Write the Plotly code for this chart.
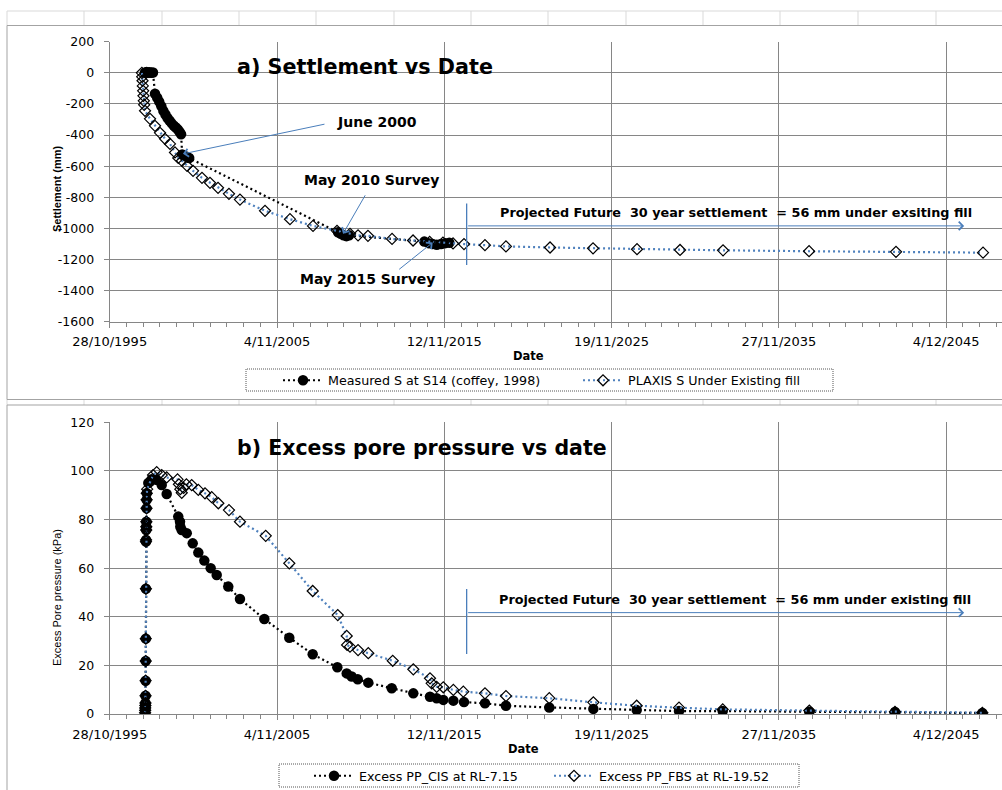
import plotly.graph_objects as go

W, H = 1002, 790

# ---------------- axes ----------------
TICK_DATES = ["1995-10-28", "2005-11-04", "2015-11-12", "2025-11-19", "2035-11-27", "2045-12-04"]
TICK_LABELS = ["28/10/1995", "4/11/2005", "12/11/2015", "19/11/2025", "27/11/2035", "4/12/2045"]
DATE_MIN = "1995-10-28"
DATE_MAX = "2049-04-08"
MINOR_STEP_DAYS = 366

SETTLE_TICKS = [200, 0, -200, -400, -600, -800, -1000, -1200, -1400, -1600]
SETTLE_LABELS = ["200", "0", "-200", "-400", "-600", "-800", "-1000", "-1200", "-1400", "-1600"]
PP_TICKS = [0, 20, 40, 60, 80, 100, 120]
PP_LABELS = ["0", "20", "40", "60", "80", "100", "120"]

# ---------------- a) settlement ----------------
MEASURED_DATES = [
    "1997-12-05", "1998-01-10", "1998-02-15", "1998-03-20", "1998-04-25", "1998-06-01",
    "1998-07-15", "1998-09-01", "1998-10-15", "1998-12-01", "1999-01-15", "1999-03-01",
    "1999-04-15", "1999-06-01", "1999-07-15", "1999-09-01", "1999-10-15", "1999-12-01",
    "2000-01-05", "2000-02-05",
    "2000-03-01", "2000-04-20", "2000-06-10", "2000-08-01",
    "2009-07-01", "2009-09-01", "2009-11-01", "2010-01-01", "2010-03-01",
    "2014-09-01", "2014-12-01", "2015-03-01", "2015-06-01", "2015-09-01", "2015-12-01",
    "2016-03-01",
]
MEASURED_S = [
    0, 5, 0, 3, 0, 2,
    -135, -160, -185, -215, -245, -268,
    -290, -308, -325, -340, -352, -365,
    -380, -395,
    -525, -535, -540, -548,
    -1025, -1035, -1045, -1050, -1045,
    -1085, -1095, -1100, -1105, -1100, -1095,
    -1092,
]

PLAXIS_DATES = [
    "1997-10-01", "1997-10-08", "1997-10-15", "1997-10-22", "1997-10-29", "1997-11-05",
    "1997-11-12", "1997-11-20", "1997-12-09", "1998-03-28", "1998-07-15", "1998-11-02",
    "1999-02-19", "1999-06-08", "1999-09-25", "1999-12-06", "2000-02-25", "2000-06-15",
    "2000-10-24", "2001-05-08", "2001-10-30", "2002-04-24", "2002-12-19", "2003-08-17",
    "2005-02-15", "2006-08-15", "2008-01-01", "2009-06-09", "2010-03-20", "2010-09-12",
    "2011-04-17", "2012-09-25", "2013-12-28", "2014-12-27", "2015-10-14", "2016-05-21",
    "2017-01-16", "2018-04-20", "2019-07-23", "2022-03-13", "2024-10-09", "2027-05-29",
    "2029-12-25", "2032-07-23", "2037-09-17", "2042-12-02", "2048-02-18",
]
PLAXIS_S = [
    0, -26, -51, -84, -116, -148,
    -180, -206, -244, -296, -341, -386,
    -424, -457, -512, -547, -566, -598,
    -630, -675, -707, -739, -778, -815,
    -887, -941, -984, -1016, -1035, -1045,
    -1048, -1068, -1078, -1087, -1091, -1097,
    -1101, -1108, -1116, -1123, -1128, -1134,
    -1139, -1141, -1147, -1151, -1156,
]

# ---------------- b) excess pore pressure ----------------
CIS_DATES = [
    "1997-12-10", "1997-12-12", "1997-12-14", "1997-12-16", "1997-12-18", "1997-12-20",
    "1997-12-22", "1997-12-24", "1997-12-26", "1997-12-28", "1997-12-30", "1998-01-01",
    "1998-01-03", "1998-01-05", "1998-01-07", "1998-01-10", "1998-01-13", "1998-01-16",
    "1998-02-19", "1998-03-28", "1998-05-04", "1998-08-21", "1998-12-09", "1999-03-28",
    "1999-12-06", "2000-01-13", "2000-01-20", "2000-02-19", "2000-06-08", "2000-10-17",
    "2001-02-17", "2001-06-28", "2001-11-14", "2002-03-26", "2002-12-04", "2003-08-17",
    "2005-01-31", "2006-07-31", "2007-12-25", "2009-06-16", "2010-01-07", "2010-04-26",
    "2010-09-05", "2011-04-24", "2012-09-18", "2014-01-03", "2015-01-03", "2015-05-29",
    "2015-10-21", "2016-05-28", "2017-01-16", "2018-04-20", "2019-07-23", "2022-02-25",
    "2024-10-16", "2027-05-22", "2029-12-03", "2032-07-16", "2037-09-23", "2042-11-10",
    "2048-02-03",
]
CIS_PP = [
    0.5, 1.5, 2.5, 3.5, 4.5, 7.5,
    13.7, 21.8, 31.0, 51.5, 70.9, 71.6,
    75.7, 77.0, 79.1, 84.6, 88.1, 90.8,
    95.0, 95.6, 96.6, 96.3, 94.2, 90.5,
    81.2, 79.1, 77.0, 75.7, 74.4, 70.2,
    66.4, 63.1, 60.0, 57.2, 52.4, 47.3,
    39.1, 31.4, 24.6, 19.2, 16.7, 15.4,
    14.3, 12.9, 10.6, 8.5, 7.1, 6.5,
    5.8, 5.5, 4.9, 4.4, 3.4, 2.7,
    2.1, 1.6, 1.2, 1.2, 0.9, 0.8,
    0.4,
]

FBS_DATES = [
    "1997-12-10", "1997-12-12", "1997-12-14", "1997-12-16", "1997-12-18", "1997-12-20",
    "1997-12-22", "1997-12-24", "1997-12-26", "1997-12-28", "1997-12-30", "1998-01-01",
    "1998-01-03", "1998-01-05", "1998-01-07", "1998-01-10", "1998-01-13", "1998-01-16",
    "1998-01-25", "1998-06-02", "1998-08-21", "1998-12-09", "1999-03-28",
    "1999-11-20", "1999-12-20", "2000-01-20", "2000-02-20", "2000-04-01", "2000-06-01",
    "2000-09-25", "2001-02-17", "2001-07-13", "2001-12-06", "2002-04-30", "2002-12-19",
    "2003-08-17", "2005-03-02", "2006-07-31", "2007-12-25", "2009-06-25", "2010-01-07",
    "2010-01-15", "2010-03-20", "2010-09-12", "2011-04-24", "2012-10-10", "2014-01-03",
    "2015-01-03", "2015-02-09", "2015-05-29", "2015-10-21", "2016-05-28", "2017-01-01",
    "2018-04-20", "2019-07-23", "2022-02-25", "2024-10-16", "2027-05-22", "2029-12-03",
    "2032-07-16", "2037-09-23", "2042-11-10", "2048-02-03",
]
FBS_PP = [
    0.5, 1.5, 2.5, 3.5, 4.5, 7.5,
    13.7, 21.8, 31.0, 51.5, 70.9, 71.6,
    75.7, 77.0, 79.1, 84.6, 88.1, 90.8,
    92.5, 98.3, 99.5, 98.3, 97.3,
    96.5, 94.5, 92.5, 91.0, 93.0, 94.5,
    94.2, 92.2, 90.8, 89.2, 86.7, 83.9,
    79.1, 73.3, 62.0, 50.6, 40.7, 32.1,
    28.4, 27.7, 26.3, 25.0, 21.9, 18.4,
    14.7, 12.6, 11.2, 11.0, 9.9, 9.2,
    8.5, 7.4, 6.5, 4.8, 3.4, 2.6,
    1.9, 1.4, 0.9, 0.5,
]

# projection marker (start of the 30-year forecast window)
PROJ_START = "2017-03-15"
PROJ_END = "2047-01-01"

# ---------------- styling ----------------
GRID = "#868686"
BLUE = "#4F81BD"
ARROW = "#4A7EBB"
CELL = "#d9d9d9"
FRAME = "#a3a3a3"
FONT = "DejaVu Sans"
DOT = "2px,3px"


def px_x(p):
    return p / W


def px_y(p):
    return 1 - p / H


fig = go.Figure()

fig.add_trace(go.Scatter(
    x=MEASURED_DATES, y=MEASURED_S, mode="lines+markers",
    name="Measured S at S14 (coffey, 1998)",
    line=dict(color="black", width=2.2, dash=DOT),
    marker=dict(symbol="circle", size=10.5, color="black"),
    xaxis="x", yaxis="y", legend="legend",
))
fig.add_trace(go.Scatter(
    x=PLAXIS_DATES, y=PLAXIS_S, mode="lines+markers",
    name="PLAXIS S Under Existing fill",
    line=dict(color=BLUE, width=2.2, dash=DOT),
    marker=dict(symbol="diamond", size=8.5, color="rgba(0,0,0,0)",
                line=dict(color="black", width=1.2)),
    xaxis="x", yaxis="y", legend="legend2",
))
fig.add_trace(go.Scatter(
    x=CIS_DATES, y=CIS_PP, mode="lines+markers",
    name="Excess PP_CIS at RL-7.15",
    line=dict(color="black", width=2.2, dash=DOT),
    marker=dict(symbol="circle", size=10.5, color="black"),
    xaxis="x2", yaxis="y2", legend="legend3",
))
fig.add_trace(go.Scatter(
    x=FBS_DATES, y=FBS_PP, mode="lines+markers",
    name="Excess PP_FBS at RL-19.52",
    line=dict(color=BLUE, width=2.2, dash=DOT),
    marker=dict(symbol="diamond", size=8.5, color="rgba(0,0,0,0)",
                line=dict(color="black", width=1.2)),
    xaxis="x2", yaxis="y2", legend="legend4",
))

x_common = dict(
    type="date", range=[DATE_MIN, DATE_MAX], automargin=False,
    tickmode="array", tickvals=TICK_DATES, ticktext=TICK_LABELS,
    showgrid=True, gridcolor=GRID, gridwidth=1,
    showline=True, linecolor=GRID, linewidth=1,
    ticks="outside", ticklen=5, tickcolor=GRID,
    minor=dict(tickmode="linear", tick0=DATE_MIN, dtick=MINOR_STEP_DAYS * 86400000,
               ticks="outside", ticklen=4, tickcolor=GRID, showgrid=False),
    tickfont=dict(family=FONT, size=13, color="black"),
    ticklabelstandoff=3, zeroline=False, fixedrange=True,
)
y_common = dict(
    tickmode="array", automargin=False,
    showgrid=True, gridcolor=GRID, gridwidth=1,
    showline=True, linecolor=GRID, linewidth=1,
    ticks="outside", ticklen=5, tickcolor=GRID,
    tickfont=dict(family=FONT, size=12.5, color="black"),
    ticklabelstandoff=7, zeroline=False, fixedrange=True,
)

X_DOMAIN = [px_x(109.7), 1.0]

fig.update_layout(
    width=W, height=H,
    margin=dict(l=0, r=0, t=0, b=0, autoexpand=False),
    paper_bgcolor="white", plot_bgcolor="white",
    showlegend=True,
    xaxis=dict(x_common, domain=X_DOMAIN, anchor="y"),
    yaxis=dict(y_common, domain=[px_y(321.7), px_y(41.7)], anchor="x",
               range=[-1600, 200], tickvals=SETTLE_TICKS, ticktext=SETTLE_LABELS),
    xaxis2=dict(x_common, domain=X_DOMAIN, anchor="y2"),
    yaxis2=dict(y_common, domain=[px_y(714), px_y(422.3)], anchor="x2",
                range=[0, 120], tickvals=PP_TICKS, ticktext=PP_LABELS),
)

legend_style = dict(orientation="h", xanchor="left", yanchor="middle",
                    bgcolor="rgba(0,0,0,0)", borderwidth=0, itemwidth=40,
                    font=dict(family=FONT, size=12.7, color="black"))
fig.update_layout(
    legend=dict(legend_style, x=px_x(278), y=px_y(380.5)),
    legend2=dict(legend_style, x=px_x(578), y=px_y(380.5)),
    legend3=dict(legend_style, x=px_x(309), y=px_y(776)),
    legend4=dict(legend_style, x=px_x(549), y=px_y(776)),
)

# ---------------- sheet frame & cell lines ----------------
shapes = []


def seg(x0, y0, x1, y1, color, width=1, dash=None, layer="below"):
    shapes.append(dict(type="line", xref="paper", yref="paper",
                       x0=px_x(x0), y0=px_y(y0), x1=px_x(x1), y1=px_y(y1),
                       line=dict(color=color, width=width, dash=dash), layer=layer))


CELL_X = [7, 84, 162, 239, 316, 394, 471, 548, 626, 703, 780, 858, 936]
seg(7, 11, 1002, 11, CELL)
for cx in CELL_X:
    seg(cx, 11, cx, 25.5, CELL)
    seg(cx, 399.5, cx, 405, CELL)

seg(7, 25.5, 1002, 25.5, FRAME)
seg(7, 25.5, 7, 399.5, FRAME)
seg(7, 399.5, 1002, 399.5, FRAME)
seg(7, 405, 1002, 405, FRAME)
seg(7, 405, 7, 790, FRAME)

# dotted legend frames
for (lx0, ly0, lx1, ly1) in [(246, 369, 833, 391), (279, 764, 799, 787)]:
    shapes.append(dict(type="rect", xref="paper", yref="paper",
                       x0=px_x(lx0), y0=px_y(ly1), x1=px_x(lx1), y1=px_y(ly0),
                       line=dict(color="#555555", width=1, dash="1px,1px"), layer="above"))

# projection window markers
shapes.append(dict(type="line", xref="x", yref="y", x0=PROJ_START, x1=PROJ_START,
                   y0=-840, y1=-1235, line=dict(color=ARROW, width=1.3)))
shapes.append(dict(type="line", xref="x2", yref="y2", x0=PROJ_START, x1=PROJ_START,
                   y0=51.4, y1=24.7, line=dict(color=ARROW, width=1.3)))
fig.update_layout(shapes=shapes)

# ---------------- annotations ----------------
ann = []


def label(text, xc, yc, size, bold=True, angle=0, family=FONT):
    ann.append(dict(text=("<b>%s</b>" % text) if bold else text,
                    xref="paper", yref="paper", x=px_x(xc), y=px_y(yc),
                    xanchor="center", yanchor="middle", showarrow=False,
                    textangle=angle, font=dict(family=family, size=size, color="black")))


label("a) Settlement vs Date", 365, 67, 20.7)
label("b) Excess pore pressure vs date", 422.3, 448, 20.5)
label("Settlement (mm)", 57, 189, 11, angle=-90, family="Liberation Sans")
label("Excess Pore pressure (kPa)", 57, 598, 11, bold=False, angle=-90, family="Liberation Sans")
label("Date", 528, 356, 11.5)
label("Date", 523, 749, 11.5)
label("June 2000", 376.5, 122, 14)
label("May 2010 Survey", 372, 180, 14)
label("May 2015 Survey", 368, 279, 14)
label("Projected Future \u00a030 year settlement \u00a0= 56 mm under exsiting fill", 735.5, 212.7, 12.8)
label("Projected Future \u00a030 year settlement \u00a0= 56 mm under existing fill", 735.3, 599, 12.8)

ARROW_STYLE = dict(showarrow=True, arrowhead=4, arrowsize=1.6, arrowwidth=1,
                   arrowcolor=ARROW, standoff=0, text="")


def pointer(xd, yd, ax, ay):
    ann.append(dict(ARROW_STYLE, x=xd, y=yd, xref="x", yref="y", ax=ax, ay=ay,
                    axref="pixel", ayref="pixel"))


pointer("2000-03-18", -521, 143, -30)
pointer("2009-10-19", -1035, 23, -40)
pointer("2015-03-03", -1091, -35, 28)

ann.append(dict(ARROW_STYLE, x=PROJ_END, y=-984, xref="x", yref="y",
                ax=PROJ_START, ay=-984, axref="x", ayref="y"))
ann.append(dict(ARROW_STYLE, x=PROJ_END, y=41.7, xref="x2", yref="y2",
                ax=PROJ_START, ay=41.7, axref="x2", ayref="y2"))

fig.update_layout(annotations=ann)

fig.write_html("out.html")
